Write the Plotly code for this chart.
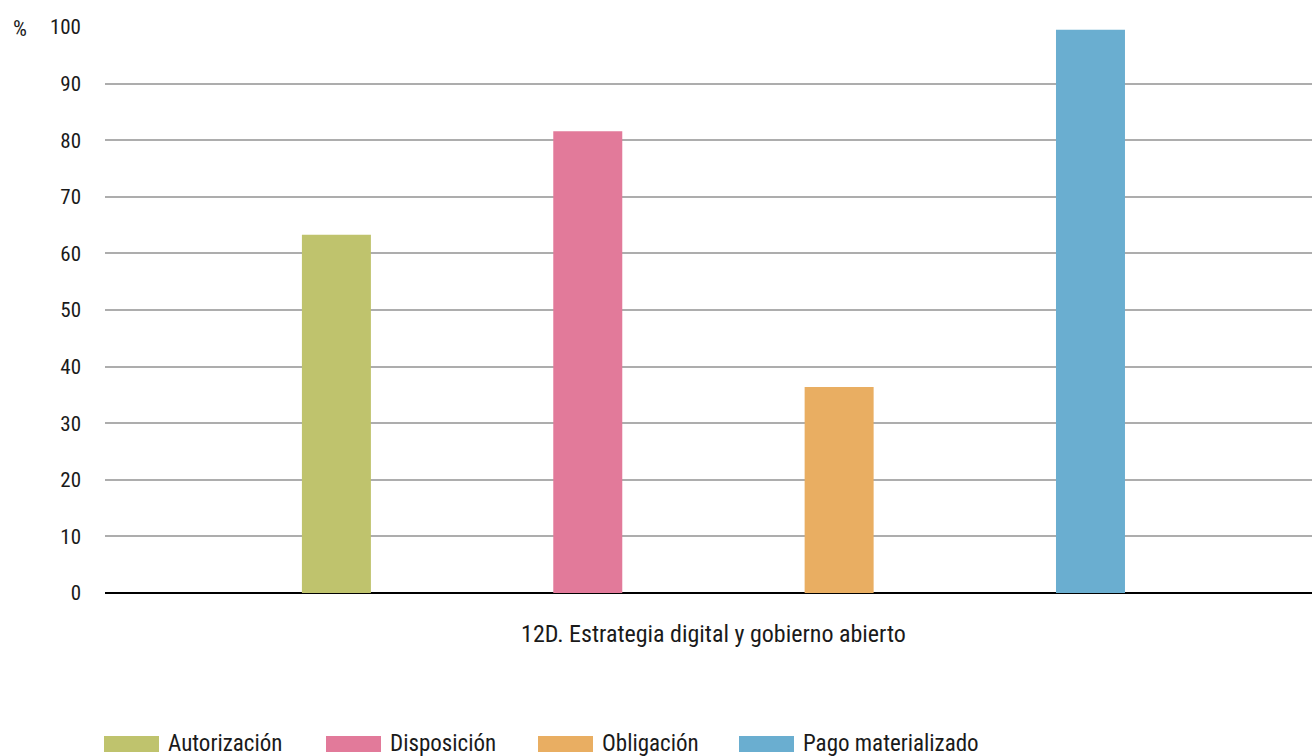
import plotly.graph_objects as go

category = ["12D. Estrategia digital y gobierno abierto"]
series_names = ["Autorización", "Disposición", "Obligación", "Pago materializado"]
series_values = [[63.3], [81.6], [36.4], [99.5]]
colors = ["#BFC36D", "#E27A9A", "#E9AE62", "#6AAED0"]
y_ticks = [0, 10, 20, 30, 40, 50, 60, 70, 80, 90, 100]

FONT = "Liberation Sans Narrow, Roboto Condensed, DejaVu Sans Condensed, sans-serif"
FS = 23

W, H = 1312, 756
PL, PT, PB = 105, 27, 593   # plot left/top/bottom in px
PW, PH = W - PL, PB - PT


def px(xp):
    return (xp - PL) / PW


def py(yp):
    return (PB - yp) / PH


fig = go.Figure()
for name, vals, col in zip(series_names, series_values, colors):
    fig.add_trace(go.Bar(x=category, y=vals, name=name, marker=dict(color=col, line=dict(width=0)),
                         showlegend=False))

# manual legend with wide swatches
legend_x = [104, 326, 538, 739]
for name, col, lx in zip(series_names, colors, legend_x):
    fig.add_shape(type="rect", xref="paper", yref="paper",
                  x0=px(lx), x1=px(lx + 55), y0=py(752), y1=py(736),
                  fillcolor=col, line=dict(width=0))
    fig.add_annotation(text=name, xref="paper", yref="paper",
                       x=px(lx + 62), y=py(743),
                       xanchor="left", yanchor="middle", showarrow=False,
                       font=dict(family=FONT, size=FS, color="#1a1a1a"))

fig.add_annotation(text="%", xref="paper", yref="paper", x=px(11), y=py(28),
                   xanchor="left", yanchor="middle", showarrow=False,
                   font=dict(family=FONT, size=FS - 1, color="#1a1a1a"))

fig.update_layout(
    width=W, height=H,
    margin=dict(l=PL, r=0, t=PT, b=H - PB),
    plot_bgcolor="white", paper_bgcolor="white",
    barmode="group", bargap=0.167, bargroupgap=0.7255,
    font=dict(family=FONT, size=FS, color="#1a1a1a"),
    xaxis=dict(type="category", range=[-0.5041, 0.4959], showgrid=False, showline=False,
               ticks="", ticklabelstandoff=24, tickfont=dict(size=FS + 1)),
    yaxis=dict(range=[0, 100], tickvals=y_ticks, showgrid=True, gridcolor="#ADADAD", gridwidth=2,
               zeroline=True, zerolinecolor="#000000", zerolinewidth=2, showline=False,
               ticks="", ticklabelstandoff=23, tickfont=dict(size=FS - 2)),
)

fig.write_html("out.html", config={"displayModeBar": False},
               post_script="document.body.style.margin='0px';")
